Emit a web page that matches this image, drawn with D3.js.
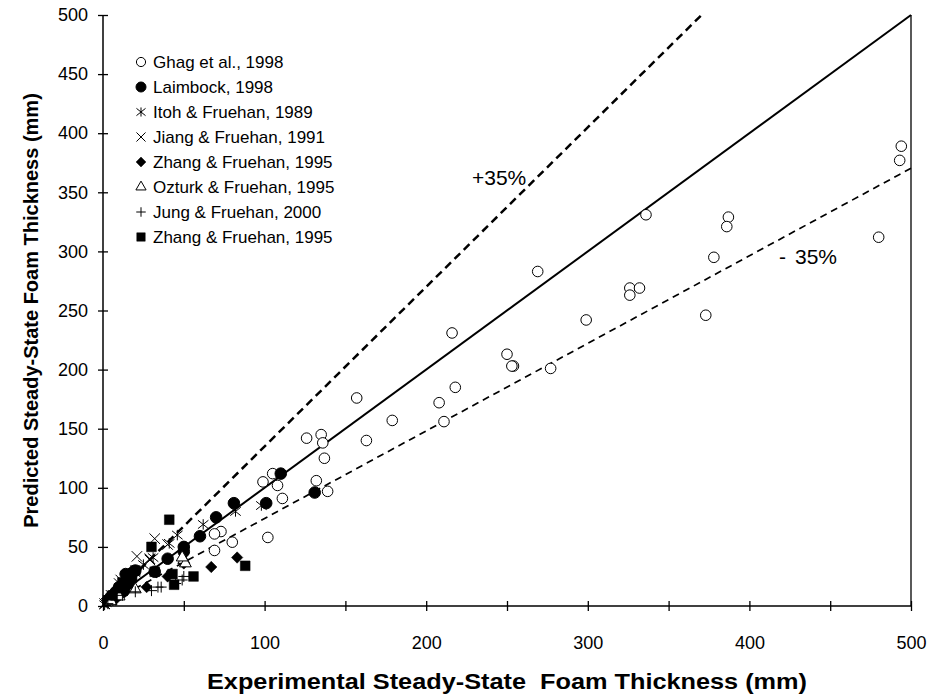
<!DOCTYPE html>
<html>
<head>
<meta charset="utf-8">
<script src="https://cdn.jsdelivr.net/npm/d3@7/dist/d3.min.js"></script>
<style>
  html, body { margin: 0; padding: 0; background: #fff; }
  svg { display: block; font-family: "Liberation Sans", Arial, Helvetica, sans-serif; }
</style>
</head>
<body>
<svg id="chart" width="935" height="696"></svg>
<script>
// Experimental vs predicted steady-state foam thickness (mm), by data source
const ghag = [
  [494,389],[493,377],[480,312],[387,329],[386,321],[378,295],[373,246],[336,331],
  [269,283],[326,269],[326,263],[332,269],[299,242],[277,201],[250,213],[254,203],
  [253,203],[216,231],[218,185],[208,172],[211,156],[157,176],[179,157],[163,140],
  [126,142],[135,145],[136,138],[137,125],[132,106],[139,97],[99,105],[105,112],
  [108,102],[111,91],[102,58],[73,63],[69,61],[80,54],[69,47]
];
const laimbock = [
  [110,112],[131,96],[101,87],[81,87],[70,75],[60,59],[50,50],[50,46],[40,40],
  [32,29],[20,30],[17,26],[15,22],[12,18],[8,12],[5,8],[3,5],[18,28],[14,27],
  [10,16],[7,10],[16,19],[13,13]
];
const itoh = [
  [98,85],[82,80],[62,69],[46,60],[41,53],[31,41],[25,35],[20,28],[15,20],
  [10,14],[6,8],[3,4],[1,1],[2,3]
];
const jiang = [
  [32,57],[40,52],[29,40],[21,42],[29,39],[11,22],[10,19],[15,24],[5,9],[3,5],[1,2]
];
const zhangDiamond = [
  [27,16],[40,25],[67,33],[83,41],[50,36],[12,10],[8,6]
];
const ozturk = [
  [50,39],[51,36],[49,41],[10,8],[5,4],[20,14]
];
const jung = [
  [34,16],[36,16],[49,22],[50,25],[30,13],[20,12],[12,9],[8,5],[3,2],[45,19]
];
const zhangSquare = [
  [41,73],[30,50],[88,34],[56,25],[44,18],[43,27],[32,29],[20,30],[15,22],[10,15],
  [18,24],[12,20],[6,9]
];

const legendLabels = [
  "Ghag et al., 1998",
  "Laimbock, 1998",
  "Itoh & Fruehan, 1989",
  "Jiang & Fruehan, 1991",
  "Zhang & Fruehan, 1995",
  "Ozturk & Fruehan, 1995",
  "Jung & Fruehan, 2000",
  "Zhang & Fruehan, 1995"
];

const axisMax = 500;
const tickValues = d3.range(0, 501, 50);
const xLabelTicks = [0, 100, 200, 300, 400, 500];
const yLabelTicks = tickValues;
const bandFactor = 1.35; // +35% / -35% bounds

const svg = d3.select("#chart");
const plotLeft = 103, plotRight = 911, plotTop = 15, plotBottom = 606;

const x = d3.scaleLinear().domain([0, axisMax]).range([plotLeft, plotRight]);
const y = d3.scaleLinear().domain([0, axisMax]).range([plotBottom, plotTop]);

// line-drawn and custom marker shapes
const plusShape = { draw(ctx, size) { const r = Math.sqrt(size) / 2;
  ctx.moveTo(-r, 0); ctx.lineTo(r, 0); ctx.moveTo(0, -r); ctx.lineTo(0, r); } };
const crossShape = { draw(ctx, size) { const r = Math.sqrt(size) / 2;
  ctx.moveTo(-r, -r); ctx.lineTo(r, r); ctx.moveTo(-r, r); ctx.lineTo(r, -r); } };
const starShape = { draw(ctx, size) { const r = Math.sqrt(size) / 2;
  ctx.moveTo(-r, -r * 0.8); ctx.lineTo(r, r * 0.8); ctx.moveTo(-r, r * 0.8); ctx.lineTo(r, -r * 0.8);
  ctx.moveTo(0, -r); ctx.lineTo(0, r); } };
const diamondShape = { draw(ctx, size) { const r = Math.sqrt(size) / 2;
  ctx.moveTo(0, -r); ctx.lineTo(r, 0); ctx.lineTo(0, r); ctx.lineTo(-r, 0); ctx.closePath(); } };

const series = [
  { data: ghag, type: d3.symbolCircle, size: 88, fill: "#fff", stroke: "#000", sw: 1 },
  { data: laimbock, type: d3.symbolCircle, size: 105, fill: "#000", stroke: "#000", sw: 1 },
  { data: itoh, type: starShape, size: 110, fill: "none", stroke: "#000", sw: 1 },
  { data: jiang, type: crossShape, size: 110, fill: "none", stroke: "#000", sw: 1 },
  { data: zhangDiamond, type: diamondShape, size: 130, fill: "#000", stroke: "#000", sw: 0.5 },
  { data: ozturk, type: d3.symbolTriangle, size: 60, fill: "#fff", stroke: "#000", sw: 1 },
  { data: jung, type: plusShape, size: 120, fill: "none", stroke: "#000", sw: 1 },
  { data: zhangSquare, type: d3.symbolSquare, size: 95, fill: "#000", stroke: "#000", sw: 0.5 }
];

// reference lines: parity and +/-35% bounds
const lineGen = d3.line().x(d => x(d[0])).y(d => y(d[1]));
svg.append("path")
  .attr("d", lineGen([[0, 0], [axisMax, axisMax]]))
  .attr("fill", "none").attr("stroke", "#000").attr("stroke-width", 2);
svg.append("path")
  .attr("d", lineGen([[0, 0], [axisMax / bandFactor, axisMax]]))
  .attr("fill", "none").attr("stroke", "#000").attr("stroke-width", 2.5)
  .attr("stroke-dasharray", "8,5");
svg.append("path")
  .attr("d", lineGen([[0, 0], [axisMax, axisMax / bandFactor]]))
  .attr("fill", "none").attr("stroke", "#000").attr("stroke-width", 1.7)
  .attr("stroke-dasharray", "7,5");

// plot frame on the right
svg.append("line")
  .attr("x1", plotRight).attr("x2", plotRight).attr("y1", plotTop).attr("y2", plotBottom)
  .attr("stroke", "#000").attr("stroke-width", 1.3);

// axes
const xAxis = d3.axisBottom(x).tickValues(tickValues).tickSize(5)
  .tickFormat(d => xLabelTicks.includes(d) ? d : "").tickPadding(0);
const gx = svg.append("g").attr("transform", `translate(0,${plotBottom})`).call(xAxis);
gx.select(".domain").attr("stroke-width", 1.5).attr("d", `M${plotLeft},0H${plotRight}`);
gx.selectAll(".tick line").attr("y1", -5).attr("y2", 5).attr("stroke-width", 1.3);
gx.selectAll(".tick text").attr("y", 30).attr("dy", "0.71em")
  .attr("font-size", 18).attr("font-family", "Liberation Sans, Arial, sans-serif");

const yAxis = d3.axisLeft(y).tickValues(tickValues).tickSize(5)
  .tickFormat(d => yLabelTicks.includes(d) ? d : "").tickPadding(0);
const gy = svg.append("g").attr("transform", `translate(${plotLeft},0)`).call(yAxis);
gy.select(".domain").attr("stroke-width", 1.5).attr("d", `M0,${plotTop}V${plotBottom}`);
gy.selectAll(".tick line").attr("x1", -5).attr("x2", 5).attr("stroke-width", 1.3);
gy.selectAll(".tick text").attr("x", -15)
  .attr("font-size", 18).attr("font-family", "Liberation Sans, Arial, sans-serif");

// data markers
series.forEach(s => {
  const sym = d3.symbol().type(s.type).size(s.size);
  svg.append("g").selectAll("path").data(s.data).join("path")
    .attr("transform", d => `translate(${x(d[0])},${y(d[1])})`)
    .attr("d", sym)
    .attr("fill", s.fill).attr("stroke", s.stroke).attr("stroke-width", s.sw);
});

// legend
const legend = svg.append("g");
series.forEach((s, i) => {
  const ly = 62 + i * 25;
  legend.append("path")
    .attr("transform", `translate(141,${ly})`)
    .attr("d", d3.symbol().type(s.type).size(s.size * 0.75)())
    .attr("fill", s.fill).attr("stroke", s.stroke).attr("stroke-width", s.sw);
  legend.append("text").attr("x", 153).attr("y", ly).attr("dy", "0.36em")
    .attr("font-size", 17).text(legendLabels[i]);
});

// band annotations
svg.append("text").attr("x", 472).attr("y", 185).attr("font-size", 21).text("+35%");
const minusLabel = svg.append("text").attr("x", 779).attr("y", 264).attr("font-size", 21);
minusLabel.append("tspan").text("-");
minusLabel.append("tspan").attr("x", 795).text("35%");

// axis titles
svg.append("text")
  .attr("transform", `translate(38,${(plotTop + plotBottom) / 2}) rotate(-90)`)
  .attr("text-anchor", "middle").attr("font-weight", "bold").attr("font-size", 20)
  .text("Predicted Steady-State Foam Thickness (mm)");
svg.append("text")
  .attr("x", (plotLeft + plotRight) / 2).attr("y", 689)
  .attr("text-anchor", "middle").attr("font-weight", "bold").attr("font-size", 22)
  .attr("textLength", 600).attr("lengthAdjust", "spacingAndGlyphs")
  .style("white-space", "pre")
  .text("Experimental Steady-State  Foam Thickness (mm)");
</script>
</body>
</html>
